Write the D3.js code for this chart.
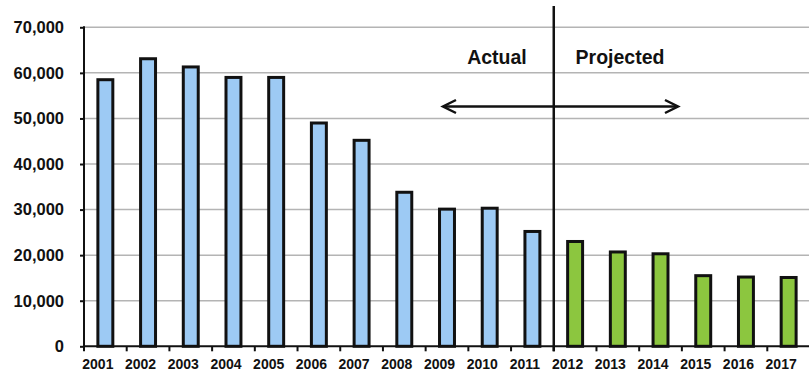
<!DOCTYPE html>
<html>
<head>
<meta charset="utf-8">
<script src="https://cdn.jsdelivr.net/npm/d3@7"></script>
<style>
  html, body { margin: 0; padding: 0; background: #fff; }
  svg { display: block; font-family: "Liberation Sans", Arial, sans-serif; }
</style>
</head>
<body>
<svg id="chart" width="809" height="374"></svg>
<script>
// Yearly totals: actual through 2011, projected from 2012
const years = ["2001","2002","2003","2004","2005","2006","2007","2008","2009",
               "2010","2011","2012","2013","2014","2015","2016","2017"];
const actualValues = [58500, 63100, 61300, 59000, 59000, 49000, 45200, 33800, 30100, 30300, 25200];
const projectedValues = [23000, 20700, 20300, 15500, 15200, 15100];
const yTicks = [0, 10000, 20000, 30000, 40000, 50000, 60000, 70000];
const periodLabels = ["Actual", "Projected"];

const rows = years.map((yr, i) => i < actualValues.length
  ? { year: yr, value: actualValues[i], kind: "actual" }
  : { year: yr, value: projectedValues[i - actualValues.length], kind: "projected" });

const fills = { actual: "#9dcaf4", projected: "#8cc63f" };

const svg = d3.select("#chart");
const plotLeft = 84, plotRight = 810, plotTop = 27.3, plotBottom = 346.3;

const x = d3.scaleBand().domain(years).range([plotLeft, plotRight])
  .paddingInner(0.65).paddingOuter(0.325);
const y = d3.scaleLinear().domain([0, 70000]).range([plotBottom, plotTop]);
const step = x.step();

// horizontal gridlines
svg.append("g").selectAll("line").data(yTicks.slice(1)).join("line")
  .attr("x1", plotLeft).attr("x2", 809)
  .attr("y1", d => y(d)).attr("y2", d => y(d))
  .attr("stroke", "#b4b4b4").attr("stroke-width", 1.5);

// bars
svg.append("g").selectAll("rect").data(rows).join("rect")
  .attr("x", d => x(d.year))
  .attr("y", d => y(d.value))
  .attr("width", x.bandwidth())
  .attr("height", d => y(0) - y(d.value))
  .attr("fill", d => fills[d.kind])
  .attr("stroke", "#111")
  .attr("stroke-width", 3);

// y axis
const yAxis = svg.append("g").attr("transform", `translate(${plotLeft},0)`)
  .call(d3.axisLeft(y).tickValues(yTicks).tickFormat(d3.format(",")).tickSize(4).tickPadding(16));
yAxis.select(".domain").attr("stroke", "#111").attr("stroke-width", 2).attr("d", `M0,${plotTop - 1}V${plotBottom}`);
yAxis.selectAll(".tick line").attr("stroke", "#111").attr("stroke-width", 2);
yAxis.selectAll(".tick text").attr("font-size", "16.5px").attr("font-weight", "bold").attr("fill", "#111");

// x axis with ticks between categories
const xAxis = svg.append("g").attr("transform", `translate(0,${plotBottom})`)
  .call(d3.axisBottom(x).tickSize(0).tickPadding(0));
xAxis.select(".domain").attr("stroke", "#111").attr("stroke-width", 2).attr("d", `M${plotLeft},0H809`);
xAxis.selectAll(".tick text")
  .attr("font-size", "14px").attr("font-weight", "bold").attr("fill", "#111")
  .attr("x", -7.5).attr("y", 23).attr("dy", 0);
svg.append("g").selectAll("line").data(d3.range(years.length + 1)).join("line")
  .attr("x1", i => plotLeft + i * step).attr("x2", i => plotLeft + i * step)
  .attr("y1", plotBottom).attr("y2", plotBottom + 5)
  .attr("stroke", "#111").attr("stroke-width", 2);

// divider between actual and projected
const splitX = plotLeft + actualValues.length * step;
svg.append("line")
  .attr("x1", splitX).attr("x2", splitX).attr("y1", 6).attr("y2", plotBottom + 5)
  .attr("stroke", "#111").attr("stroke-width", 2.5);

// period labels
svg.append("text").attr("x", 497).attr("y", 64).attr("text-anchor", "middle")
  .attr("font-size", "19.5px").attr("font-weight", "bold").attr("fill", "#111").text(periodLabels[0]);
svg.append("text").attr("x", 620).attr("y", 64).attr("text-anchor", "middle")
  .attr("font-size", "19.5px").attr("font-weight", "bold").attr("fill", "#111").text(periodLabels[1]);

// double-headed arrow
const ay = 106.5, ax1 = 443, ax2 = 678;
svg.append("line").attr("x1", ax1 + 1).attr("x2", ax2 - 1).attr("y1", ay).attr("y2", ay)
  .attr("stroke", "#111").attr("stroke-width", 2.5);
svg.append("path")
  .attr("d", `M${ax1 + 13},${ay - 6.5}L${ax1},${ay}L${ax1 + 13},${ay + 6.5}` +
             `M${ax2 - 13},${ay - 6.5}L${ax2},${ay}L${ax2 - 13},${ay + 6.5}`)
  .attr("fill", "none").attr("stroke", "#111").attr("stroke-width", 2.5)
  .attr("stroke-linejoin", "miter");
</script>
</body>
</html>
